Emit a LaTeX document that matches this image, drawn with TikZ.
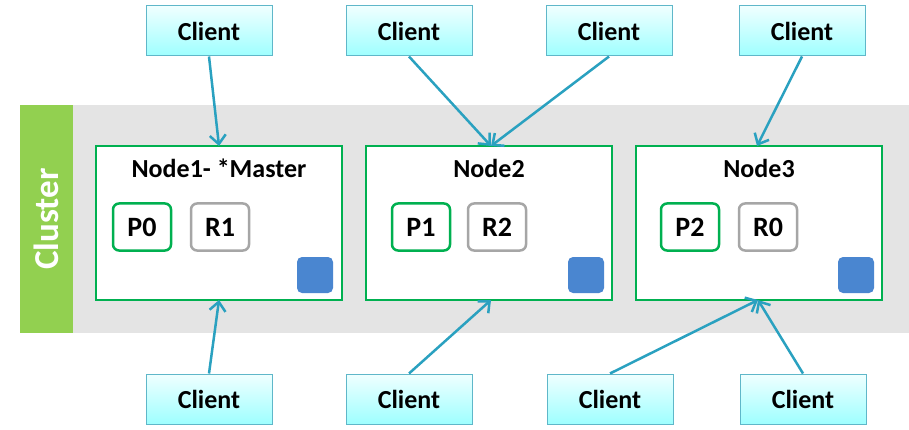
\documentclass[tikz,border=0pt]{standalone}
\usepackage{fontspec}
\setmainfont{Carlito}
\usetikzlibrary{arrows.meta}
\definecolor{arr}{HTML}{2AA1C0}
\definecolor{grn}{HTML}{00B050}
\definecolor{clgreen}{HTML}{92D050}
\definecolor{band}{HTML}{E4E4E4}
\definecolor{rgray}{HTML}{A6A6A6}
\definecolor{blu}{HTML}{4A86D0}
\definecolor{cbord}{HTML}{5FB7C9}
\begin{document}
\begin{tikzpicture}[x=1pt,y=-1pt,
  client/.style={draw=cbord,line width=1pt,top color=cyan!6,bottom color=cyan!38!white,
    minimum width=126pt,minimum height=50pt,inner sep=0pt,font=\fontsize{26}{28}\selectfont\bfseries},
  esnode/.style={draw=grn,fill=white,line width=2pt,minimum width=246pt,minimum height=153pt,inner sep=0pt},
  prim/.style={draw=grn,fill=white,line width=2.5pt,rounded corners=6pt,minimum width=58pt,minimum height=47pt,inner sep=0pt,font=\fontsize{28}{30}\selectfont\bfseries},
  repl/.style={draw=rgray,fill=white,line width=2.5pt,rounded corners=6pt,minimum width=58pt,minimum height=47pt,inner sep=0pt,font=\fontsize{28}{30}\selectfont\bfseries},
  sq/.style={fill=blu,rounded corners=5pt,minimum width=36pt,minimum height=36pt,inner sep=0pt},
  title/.style={font=\fontsize{26}{28}\selectfont\bfseries,inner sep=0pt},
  conn/.style={draw=arr,line width=2.5pt,-{Straight Barb[length=9pt,width=16pt,line width=2.5pt]}}]
\useasboundingbox (0,0) rectangle (909,430);
\fill[white] (0,0) rectangle (909,430);
% band
\fill[band] (72,105) rectangle (909,333);
\node[fill=clgreen,minimum width=53pt,minimum height=228pt,inner sep=0pt] (cl) at (46.5,219) {};
\node[rotate=90,text=white,font=\fontsize{35}{37}\selectfont\bfseries] (cltxt) at (46.5,219) {Cluster};
% nodes
\node[esnode] (n1) at (219,223) {};
\node[esnode] (n2) at (489,223) {};
\node[esnode] (n3) at (759,223) {};
\node[title] (t1) at (219,168) {Node1- *Master};
\node[title] (t2) at (489,168) {Node2};
\node[title] (t3) at (759,168) {Node3};
\node[prim] (p0) at (142,227) {P0};
\node[repl] (r1) at (220,227) {R1};
\node[prim] (p1) at (421,227) {P1};
\node[repl] (r2) at (497,227) {R2};
\node[prim] (p2) at (690,227) {P2};
\node[repl] (r0) at (768,227) {R0};
\node[sq] (s1) at (315,275) {};
\node[sq] (s2) at (586,275) {};
\node[sq] (s3) at (856,275) {};
% clients
\node[client] (c1) at (209,31) {Client};
\node[client] (c2) at (409,31) {Client};
\node[client] (c3) at (609,31) {Client};
\node[client] (c4) at (802,31) {Client};
\node[client] (c5) at (209,399) {Client};
\node[client] (c6) at (409,399) {Client};
\node[client] (c7) at (610,399) {Client};
\node[client] (c8) at (803,399) {Client};
% connector end points
\coordinate (e1) at (219,146);
\coordinate (e2) at (491,146);
\coordinate (e3) at (757,146);
\coordinate (f1) at (219,300);
\coordinate (f2) at (491,300);
\coordinate (f3) at (758,300);
\draw[conn] (c1.south) -- (e1);
\draw[conn] (c2.south) -- (e2);
\draw[conn] (c3.south) -- (e2);
\draw[conn] (c4.south) -- (e3);
\draw[conn] (c5.north) -- (f1);
\draw[conn] (c6.north) -- (f2);
\draw[conn] (c7.north) -- (f3);
\draw[conn] (c8.north) -- (f3);
\end{tikzpicture}
\end{document}
